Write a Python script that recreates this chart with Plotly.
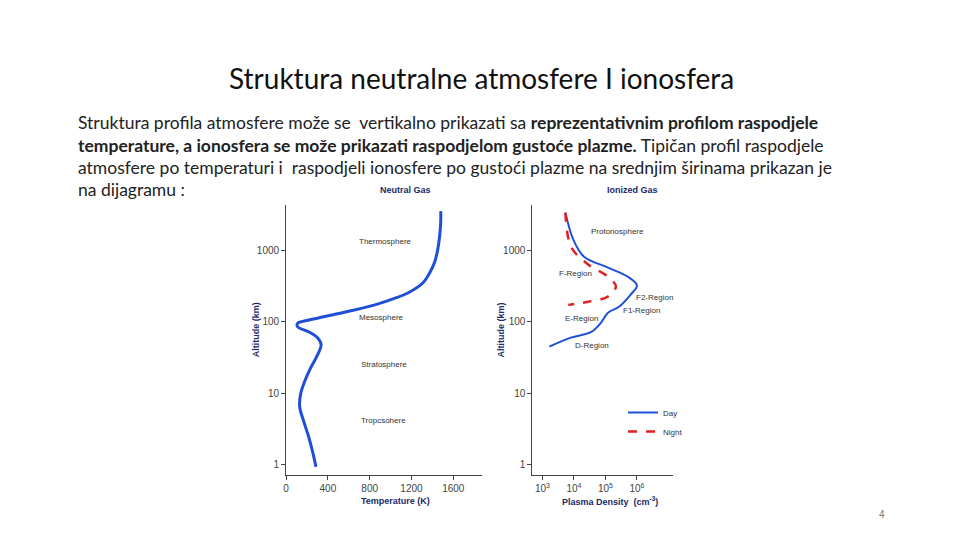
import plotly.graph_objects as go

# Neutral gas: temperature profile
temp_alt = [0.94,1.5,2.5,4,6.5,10,15,22,32,48,60,72,85,95,105,118,140,172,210,254,350,500,670,1000,1600,2500,3500]
temp_K = [286,255,215,170,130,140,180,230,290,335,300,220,110,110,210,370,600,850,1030,1170,1310,1380,1420,1450,1470,1480,1480]
# Ionized gas: plasma density (log10 cm^-3)
day_logn = [3.73,3.98,4.32,5.08,5.71,6.0,5.8,5.43,5.08,4.86,4.55,3.9,3.22]
day_alt = [3340,1400,810,570,425,320,240,162,134,97,72,60,45]
night_logn = [3.73,3.91,4.45,5.08,5.33,5.08,4.45,3.82]
night_alt = [3340,1110,630,425,310,225,190,172]

temp_ticks = [0,400,800,1200,1600]
alt_ticks = [1,10,100,1000]
dens_ticks = [1e3,1e4,1e5,1e6]
dens_labels = ["10<sup>3</sup>","10<sup>4</sup>","10<sup>5</sup>","10<sup>6</sup>"]

fig = go.Figure()
fig.add_trace(go.Scatter(x=temp_K, y=temp_alt, mode="lines", line=dict(color="#1f4fd6", width=3, shape="spline"),
                         xaxis="x", yaxis="y", showlegend=False))
fig.add_trace(go.Scatter(x=[10**v for v in day_logn], y=day_alt, mode="lines", name="Day",
                         line=dict(color="#1f4fd6", width=2, shape="spline"), xaxis="x2", yaxis="y2"))
fig.add_trace(go.Scatter(x=[10**v for v in night_logn], y=night_alt, mode="lines", name="Night",
                         line=dict(color="#e02020", width=2.5, dash="dash", shape="spline"), xaxis="x2", yaxis="y2"))

ydom = [1-475/540, 1-205/540]
tickf = dict(size=10, color="#444")
axcommon = dict(showgrid=False, zeroline=False, showline=True, linecolor="#444", ticks="outside",
                ticklen=4, tickcolor="#444", tickfont=tickf)
fig.update_layout(
    width=960, height=540, margin=dict(l=0, r=0, t=0, b=0),
    paper_bgcolor="white", plot_bgcolor="white",
    font=dict(family="Liberation Sans"),
    xaxis=dict(domain=[284/960, 480/960], range=[0, 1870], tickvals=temp_ticks, anchor="y", **axcommon),
    yaxis=dict(domain=ydom, type="log", range=[-0.14, 3.63], tickvals=alt_ticks, anchor="x", **axcommon),
    xaxis2=dict(domain=[531/960, 672/960], type="log", range=[2.68, 7.14], tickvals=dens_ticks,
                ticktext=dens_labels, anchor="y2", **axcommon),
    yaxis2=dict(domain=ydom, type="log", range=[-0.14, 3.63], tickvals=alt_ticks, anchor="x2", **axcommon),
    legend=dict(x=622/960, y=1-398/540, xanchor="left", yanchor="top", bgcolor="rgba(0,0,0,0)",
                font=dict(size=8, color="#333"), itemwidth=30, tracegroupgap=0),
)

def ann(x, y, text, size=8, color="#333", xanchor="center", **kw):
    fig.add_annotation(x=x/960, y=1-y/540, xref="paper", yref="paper", text=text, showarrow=False,
                       font=dict(size=size, color=color, family=kw.pop("family", "Liberation Sans")),
                       xanchor=xanchor, yanchor="middle", **kw)

ann(480, 78, "Struktura neutralne atmosfere I ionosfera", size=28, color="#111", family="Lato")
lines = [
    "Struktura profila atmosfere može se  vertikalno prikazati sa <b>reprezentativnim profilom raspodjele</b>",
    "<b>temperature, a ionosfera se može prikazati raspodjelom gustoće plazme.</b> Tipičan profil raspodjele",
    "atmosfere po temperaturi i  raspodjeli ionosfere po gustoći plazme na srednjim širinama prikazan je",
    "na dijagramu :",
]
for i, t in enumerate(lines):
    ann(73, 123 + i*22.3, t, size=17.5, color="#222", xanchor="left", family="Lato")

ann(404, 190, "<b>Neutral Gas</b>", size=9, color="#1a2a6a")
ann(631, 190, "<b>Ionized Gas</b>", size=9, color="#1a2a6a")
ann(384, 241, "Thermosphere")
ann(380, 317, "Mesosphere")
ann(382, 364, "Stratosphere")
ann(382, 420, "Tropcsohere")
ann(616, 231, "Protonosphere")
ann(574, 273, "F-Region")
ann(654, 297, "F2-Region")
ann(641, 310, "F1-Region")
ann(580, 318, "E-Region")
ann(591, 345, "D-Region")
ann(394, 501, "<b>Temperature (K)</b>", size=9, color="#1a2a6a")
ann(609, 501, "<b>Plasma Density  (cm<sup>-3</sup>)</b>", size=9, color="#1a2a6a")
ann(254, 330, "<b>Altitude (km)</b>", size=9, color="#1a2a6a", textangle=-90)
ann(500, 330, "<b>Altitude (km)</b>", size=9, color="#1a2a6a", textangle=-90)
ann(882, 514, "4", size=10, color="#777")

fig.write_html("out.html", config={"displayModeBar": False})
with open("out.html", encoding="utf-8") as f:
    html = f.read()
html = html.replace("<body>", '<body style="margin:0">', 1)
with open("out.html", "w", encoding="utf-8") as f:
    f.write(html)
